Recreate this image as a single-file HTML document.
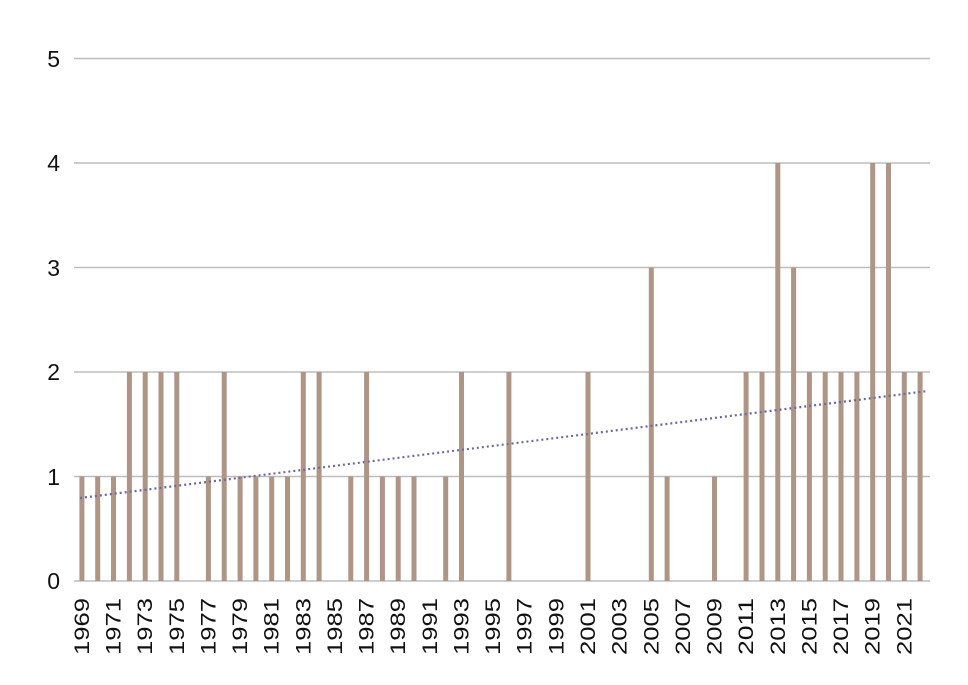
<!DOCTYPE html>
<html><head><meta charset="utf-8"><style>html,body{margin:0;padding:0;background:#fff}</style></head>
<body>
<svg width="968" height="680" xmlns="http://www.w3.org/2000/svg" font-family="Liberation Sans, sans-serif">
<g stroke="#bdbdbd" stroke-width="1.5">
<line x1="74" x2="930" y1="58.5" y2="58.5"/>
<line x1="74" x2="930" y1="163" y2="163"/>
<line x1="74" x2="930" y1="267.5" y2="267.5"/>
<line x1="74" x2="930" y1="372" y2="372"/>
<line x1="74" x2="930" y1="476.5" y2="476.5"/>
<line x1="74" x2="930" y1="581" y2="581"/>
</g>
<g font-size="23" fill="#111" text-anchor="end">
<text x="60" y="589">0</text><text x="60" y="485">1</text><text x="60" y="380">2</text>
<text x="60" y="276">3</text><text x="60" y="171">4</text><text x="60" y="67">5</text>
</g>
<g fill="#ae9585">
<rect x="79.4" y="476.5" width="5" height="104.5"/>
<rect x="95.2" y="476.5" width="5" height="104.5"/>
<rect x="111.0" y="476.5" width="5" height="104.5"/>
<rect x="126.9" y="372" width="5" height="209"/>
<rect x="142.7" y="372" width="5" height="209"/>
<rect x="158.5" y="372" width="5" height="209"/>
<rect x="174.3" y="372" width="5" height="209"/>
<rect x="205.9" y="476.5" width="5" height="104.5"/>
<rect x="221.7" y="372" width="5" height="209"/>
<rect x="237.6" y="476.5" width="5" height="104.5"/>
<rect x="253.4" y="476.5" width="5" height="104.5"/>
<rect x="269.2" y="476.5" width="5" height="104.5"/>
<rect x="285.0" y="476.5" width="5" height="104.5"/>
<rect x="300.8" y="372" width="5" height="209"/>
<rect x="316.6" y="372" width="5" height="209"/>
<rect x="348.3" y="476.5" width="5" height="104.5"/>
<rect x="364.1" y="372" width="5" height="209"/>
<rect x="379.9" y="476.5" width="5" height="104.5"/>
<rect x="395.7" y="476.5" width="5" height="104.5"/>
<rect x="411.5" y="476.5" width="5" height="104.5"/>
<rect x="443.2" y="476.5" width="5" height="104.5"/>
<rect x="459.0" y="372" width="5" height="209"/>
<rect x="506.4" y="372" width="5" height="209"/>
<rect x="585.5" y="372" width="5" height="209"/>
<rect x="648.8" y="267.5" width="5" height="313.5"/>
<rect x="664.6" y="476.5" width="5" height="104.5"/>
<rect x="712.0" y="476.5" width="5" height="104.5"/>
<rect x="743.6" y="372" width="5" height="209"/>
<rect x="759.5" y="372" width="5" height="209"/>
<rect x="775.3" y="163" width="5" height="418"/>
<rect x="791.1" y="267.5" width="5" height="313.5"/>
<rect x="806.9" y="372" width="5" height="209"/>
<rect x="822.7" y="372" width="5" height="209"/>
<rect x="838.5" y="372" width="5" height="209"/>
<rect x="854.4" y="372" width="5" height="209"/>
<rect x="870.2" y="163" width="5" height="418"/>
<rect x="886.0" y="163" width="5" height="418"/>
<rect x="901.8" y="372" width="5" height="209"/>
<rect x="917.6" y="372" width="5" height="209"/>
</g>
<g font-size="21" fill="#111" text-anchor="end">
<text transform="translate(89,598) rotate(-90)" textLength="57" lengthAdjust="spacingAndGlyphs">1969</text>
<text transform="translate(120.5,598) rotate(-90)" textLength="57" lengthAdjust="spacingAndGlyphs">1971</text>
<text transform="translate(152.2,598) rotate(-90)" textLength="57" lengthAdjust="spacingAndGlyphs">1973</text>
<text transform="translate(183.8,598) rotate(-90)" textLength="57" lengthAdjust="spacingAndGlyphs">1975</text>
<text transform="translate(215.4,598) rotate(-90)" textLength="57" lengthAdjust="spacingAndGlyphs">1977</text>
<text transform="translate(247.1,598) rotate(-90)" textLength="57" lengthAdjust="spacingAndGlyphs">1979</text>
<text transform="translate(278.7,598) rotate(-90)" textLength="57" lengthAdjust="spacingAndGlyphs">1981</text>
<text transform="translate(310.3,598) rotate(-90)" textLength="57" lengthAdjust="spacingAndGlyphs">1983</text>
<text transform="translate(341.9,598) rotate(-90)" textLength="57" lengthAdjust="spacingAndGlyphs">1985</text>
<text transform="translate(373.6,598) rotate(-90)" textLength="57" lengthAdjust="spacingAndGlyphs">1987</text>
<text transform="translate(405.2,598) rotate(-90)" textLength="57" lengthAdjust="spacingAndGlyphs">1989</text>
<text transform="translate(436.8,598) rotate(-90)" textLength="57" lengthAdjust="spacingAndGlyphs">1991</text>
<text transform="translate(468.5,598) rotate(-90)" textLength="57" lengthAdjust="spacingAndGlyphs">1993</text>
<text transform="translate(500.1,598) rotate(-90)" textLength="57" lengthAdjust="spacingAndGlyphs">1995</text>
<text transform="translate(531.7,598) rotate(-90)" textLength="57" lengthAdjust="spacingAndGlyphs">1997</text>
<text transform="translate(563.4,598) rotate(-90)" textLength="57" lengthAdjust="spacingAndGlyphs">1999</text>
<text transform="translate(595.0,598) rotate(-90)" textLength="57" lengthAdjust="spacingAndGlyphs">2001</text>
<text transform="translate(626.6,598) rotate(-90)" textLength="57" lengthAdjust="spacingAndGlyphs">2003</text>
<text transform="translate(658.3,598) rotate(-90)" textLength="57" lengthAdjust="spacingAndGlyphs">2005</text>
<text transform="translate(689.9,598) rotate(-90)" textLength="57" lengthAdjust="spacingAndGlyphs">2007</text>
<text transform="translate(721.5,598) rotate(-90)" textLength="57" lengthAdjust="spacingAndGlyphs">2009</text>
<text transform="translate(753.1,598) rotate(-90)" textLength="57" lengthAdjust="spacingAndGlyphs">2011</text>
<text transform="translate(784.8,598) rotate(-90)" textLength="57" lengthAdjust="spacingAndGlyphs">2013</text>
<text transform="translate(816.4,598) rotate(-90)" textLength="57" lengthAdjust="spacingAndGlyphs">2015</text>
<text transform="translate(848.0,598) rotate(-90)" textLength="57" lengthAdjust="spacingAndGlyphs">2017</text>
<text transform="translate(879.7,598) rotate(-90)" textLength="57" lengthAdjust="spacingAndGlyphs">2019</text>
<text transform="translate(911.3,598) rotate(-90)" textLength="57" lengthAdjust="spacingAndGlyphs">2021</text>
</g>
<line x1="80" y1="498" x2="928" y2="391" stroke="#6b6a9e" stroke-width="2.2" stroke-dasharray="2,3"/>
</svg>
</body></html>
